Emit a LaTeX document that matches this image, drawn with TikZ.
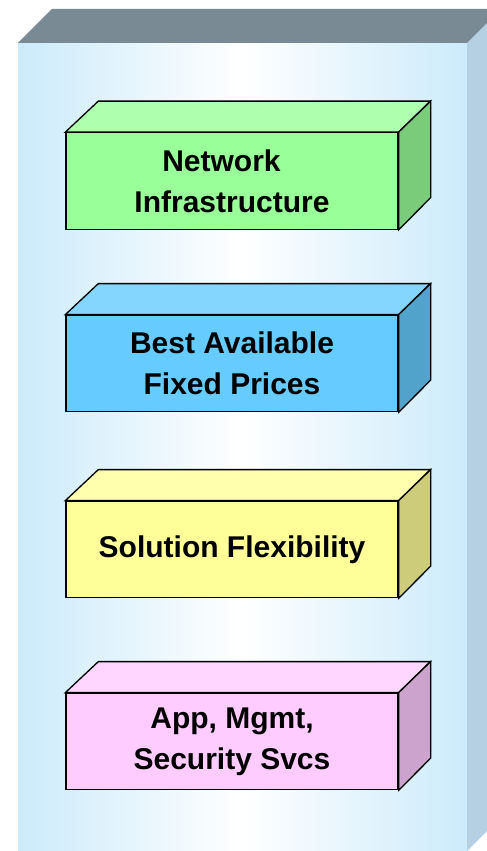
\documentclass[tikz,border=0pt]{standalone}
\usepackage{fontspec}
\setmainfont{Liberation Sans}
\begin{document}
\begin{tikzpicture}[x=1pt,y=1pt,
  front/.style={draw=black, line width=1.3pt, minimum width=332pt, minimum height=96.5pt,
    inner sep=0pt, align=center, font=\fontsize{30}{41}\selectfont\bfseries},
  facet/.style={draw=black, line width=1.3pt, line join=miter}]
\useasboundingbox (0,0) rectangle (487,-851);
\definecolor{bgfront}{HTML}{CCEBFB}
\definecolor{bgtop}{HTML}{7A8A95}
\definecolor{bgside}{HTML}{B4D0E2}
\definecolor{gF}{HTML}{99FF99}\definecolor{gT}{HTML}{AEFFAE}\definecolor{gS}{HTML}{7ACC7A}
\definecolor{bF}{HTML}{66CCFF}\definecolor{bT}{HTML}{85D6FF}\definecolor{bS}{HTML}{52A3CC}
\definecolor{yF}{HTML}{FFFF99}\definecolor{yT}{HTML}{FFFFAE}\definecolor{yS}{HTML}{CCCC7A}
\definecolor{pF}{HTML}{FFCCFF}\definecolor{pT}{HTML}{FFD6FF}\definecolor{pS}{HTML}{CCA3CC}
\begin{scope}
\clip (0,0) rectangle (487,-851);
% big panel
\shade[left color=bgfront, right color=bgfront, middle color=white] (18,-43) rectangle (467,-860);
\fill[bgtop] (18,-43) -- (52,-9) -- (520,-9) -- (467,-43) -- cycle;
\fill[bgside] (467,-43) -- (501,-9) -- (501,-817) -- (467,-851) -- cycle;
\end{scope}
% boxes
\node[front, fill=gF] (g) at (232,-181) {Network\hspace*{0.7em}\\Infrastructure};
\draw[facet, fill=gT] (g.north west) -- ++(33,31) -- ++(332,0) -- (g.north east) -- cycle;
\draw[facet, fill=gS] (g.north east) -- ++(32,31) -- ++(0,-96.5) -- (g.south east) -- cycle;

\node[front, fill=bF] (b) at (232,-363.5) {Best Available\\Fixed Prices};
\draw[facet, fill=bT] (b.north west) -- ++(33,31) -- ++(332,0) -- (b.north east) -- cycle;
\draw[facet, fill=bS] (b.north east) -- ++(32,31) -- ++(0,-96.5) -- (b.south east) -- cycle;

\node[front, fill=yF] (y) at (232,-549.5) {Solution Flexibility};
\draw[facet, fill=yT] (y.north west) -- ++(33,31) -- ++(332,0) -- (y.north east) -- cycle;
\draw[facet, fill=yS] (y.north east) -- ++(32,31) -- ++(0,-96.5) -- (y.south east) -- cycle;

\node[front, fill=pF] (p) at (232,-741.5) {App, Mgmt,\\Security Svcs};
\draw[facet, fill=pT] (p.north west) -- ++(33,31) -- ++(332,0) -- (p.north east) -- cycle;
\draw[facet, fill=pS] (p.north east) -- ++(32,31) -- ++(0,-96.5) -- (p.south east) -- cycle;
\end{tikzpicture}
\end{document}
